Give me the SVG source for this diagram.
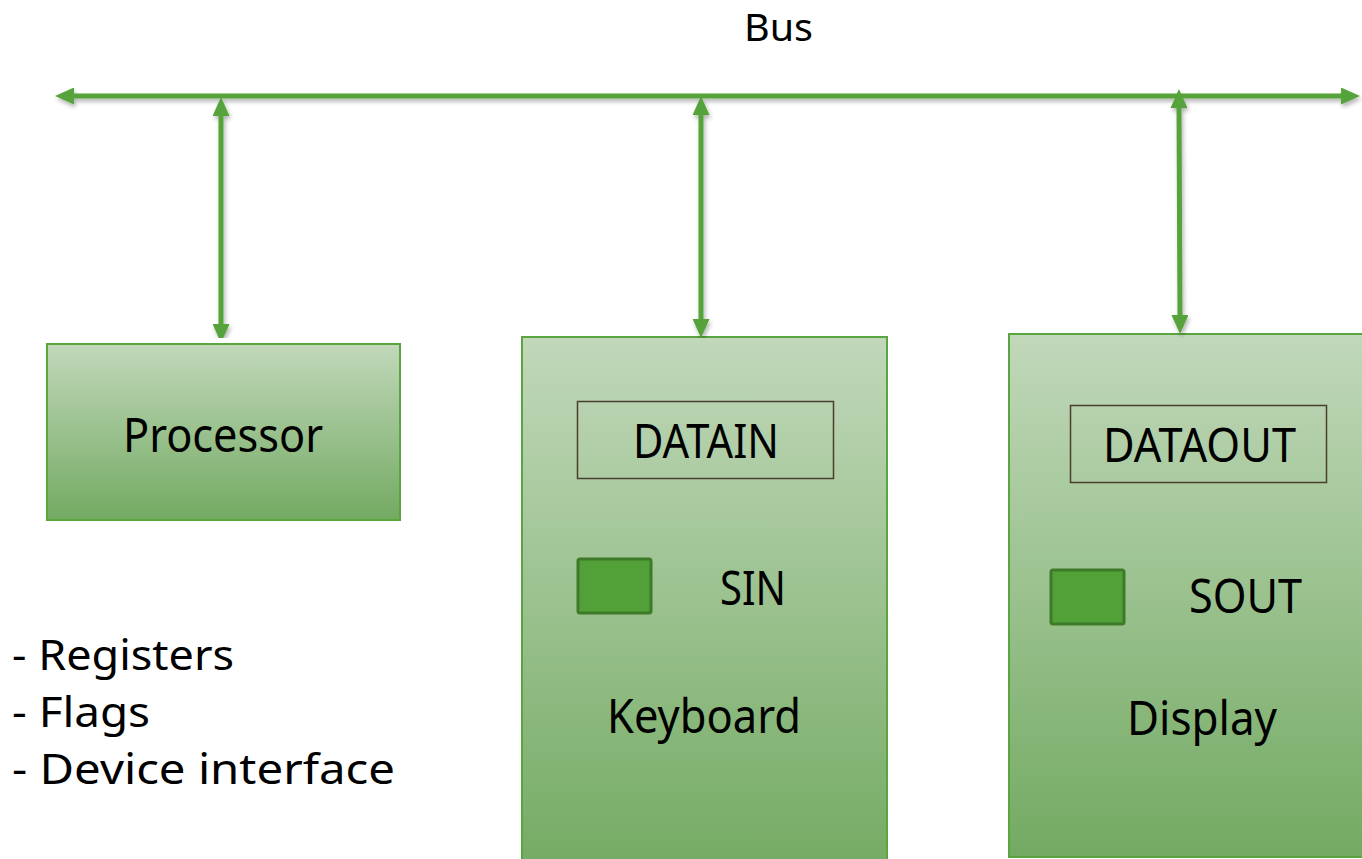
<svg xmlns="http://www.w3.org/2000/svg" width="1362" height="859" viewBox="0 0 1362 859">
  <defs>
    <linearGradient id="boxFill" x1="0" y1="0" x2="0" y2="1">
      <stop offset="0" stop-color="#c1d8ba"/>
      <stop offset="1" stop-color="#73aa62"/>
    </linearGradient>
    <linearGradient id="tallFill" x1="0" y1="0" x2="0" y2="1">
      <stop offset="0" stop-color="#c1d8ba"/>
      <stop offset="1" stop-color="#73aa62"/>
    </linearGradient>
    <filter id="shadow" x="-5%" y="-5%" width="110%" height="110%">
      <feDropShadow dx="1.5" dy="3" stdDeviation="2" flood-color="#000" flood-opacity="0.3"/>
    </filter>
    <marker id="head" markerUnits="userSpaceOnUse" viewBox="0 0 19 17" markerWidth="19" markerHeight="17" refX="2" refY="8.5" orient="auto-start-reverse">
      <path d="M0,0 L19,8.5 L0,17 z" fill="#56a23a"/>
    </marker>
  </defs>
  <style>
    .box { stroke: #5ba540; stroke-width: 2; }
    .reg { fill: none; stroke: #4a3f2e; stroke-width: 1.5; }
    .flag { fill: #52a038; stroke: #3d7a29; stroke-width: 3; }
    .wire { stroke: #56a23a; stroke-width: 5; fill: none; marker-start: url(#head); marker-end: url(#head); }
    text { font-family: "Noto Sans", "Open Sans", sans-serif; fill: #000; }
    .lbl { font-size: 47px; }
    .note { font-size: 41px; }
    .bus { font-size: 39px; }
  </style>

  <!-- bus label -->
  <text class="bus" x="744" y="41" textLength="69" lengthAdjust="spacingAndGlyphs">Bus</text>

  <!-- processor -->
  <g id="processor">
    <rect class="box" x="47" y="344" width="353" height="176" fill="url(#boxFill)"/>
    <text class="lbl" x="123" y="452" textLength="200" lengthAdjust="spacingAndGlyphs">Processor</text>
  </g>

  <!-- keyboard interface -->
  <g id="keyboard">
    <rect class="box" x="522" y="337" width="365" height="540" fill="url(#tallFill)"/>
    <rect class="reg" x="577.5" y="401.5" width="256" height="77"/>
    <text class="lbl" x="633" y="458" textLength="146" lengthAdjust="spacingAndGlyphs">DATAIN</text>
    <rect class="flag" x="578" y="559" width="73" height="54" rx="2"/>
    <text class="lbl" x="720" y="605" textLength="66" lengthAdjust="spacingAndGlyphs">SIN</text>
    <text class="lbl" x="607" y="733" textLength="194" lengthAdjust="spacingAndGlyphs">Keyboard</text>
  </g>

  <!-- display interface -->
  <g id="display">
    <rect class="box" x="1009" y="334" width="365" height="523" fill="url(#boxFill)"/>
    <rect class="reg" x="1070.5" y="405.5" width="256" height="77"/>
    <text class="lbl" x="1103" y="462" textLength="193" lengthAdjust="spacingAndGlyphs">DATAOUT</text>
    <rect class="flag" x="1051" y="570" width="73" height="54" rx="2"/>
    <text class="lbl" x="1189" y="613" textLength="113" lengthAdjust="spacingAndGlyphs">SOUT</text>
    <text class="lbl" x="1127" y="735" textLength="150" lengthAdjust="spacingAndGlyphs">Display</text>
  </g>

  <!-- processor notes -->
  <g id="notes">
    <text class="note" x="12" y="670" textLength="222" lengthAdjust="spacingAndGlyphs">- Registers</text>
    <text class="note" x="12" y="727" textLength="138" lengthAdjust="spacingAndGlyphs">- Flags</text>
    <text class="note" x="12" y="784" textLength="383" lengthAdjust="spacingAndGlyphs">- Device interface</text>
  </g>

  <!-- bus and drops -->
  <g id="connectors" filter="url(#shadow)">
    <line class="wire" x1="72" y1="96" x2="1343" y2="96"/>
    <line class="wire" x1="221" y1="114" x2="221" y2="326"/>
    <line class="wire" x1="701" y1="113" x2="701" y2="321"/>
    <line class="wire" x1="1179" y1="106" x2="1180" y2="317"/>
  </g>
</svg>
